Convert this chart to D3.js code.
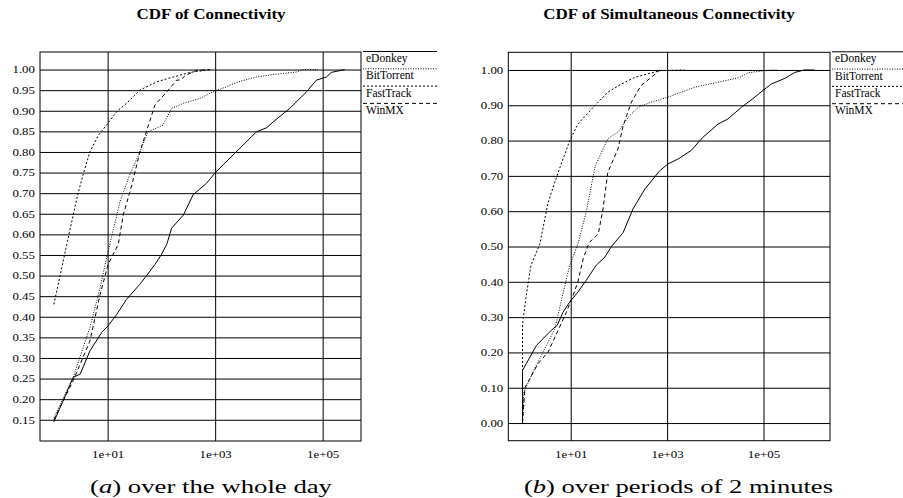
<!DOCTYPE html>
<html>
<head>
<meta charset="utf-8">
<script src="https://cdn.jsdelivr.net/npm/d3@7"></script>
<style>
  body { margin: 0; background: #fff; }
  text { font-family: "Liberation Serif", "Times New Roman", serif; fill: #000; }
</style>
</head>
<body>
<svg id="chart" width="903" height="498"></svg>
<script>
var seriesNames = ["eDonkey", "BitTorrent", "FastTrack", "WinMX"];

var xTickValues = [10, 1000, 100000];
var xTickLabels = ["1e+01", "1e+03", "1e+05"];
var dayYTicks = [0.15, 0.20, 0.25, 0.30, 0.35, 0.40, 0.45, 0.50, 0.55, 0.60,
                 0.65, 0.70, 0.75, 0.80, 0.85, 0.90, 0.95, 1.00];
var minYTicks = [0.00, 0.10, 0.20, 0.30, 0.40, 0.50, 0.60, 0.70, 0.80, 0.90, 1.00];

// (a) whole day
var dayEdonkeyX = [1, 2.29, 3.09, 4.68, 7.76, 10.2, 14.8, 22.4, 39.8, 52.5, 75.9, 100, 126, 155,
                   257, 389, 692, 977, 1413, 2884, 5888, 9120, 12023, 24547, 50119, 75858,
                   117490, 144544, 257040];
var dayEdonkeyY = [0.145, 0.253, 0.261, 0.317, 0.362, 0.378, 0.406, 0.442, 0.479, 0.499, 0.527,
                   0.551, 0.576, 0.615, 0.647, 0.696, 0.724, 0.748, 0.769, 0.809, 0.849, 0.859,
                   0.873, 0.906, 0.946, 0.974, 0.982, 0.993, 1.0];
var dayBitX = [1, 2.29, 4.68, 7.24, 9.55, 11.7, 17, 25.7, 39.8, 56.2, 107, 155, 257, 525, 977,
               1622, 2512, 5888, 12023, 32359, 43652, 81283];
var dayBitY = [0.155, 0.253, 0.374, 0.47, 0.543, 0.591, 0.68, 0.744, 0.80, 0.849, 0.865, 0.906,
               0.918, 0.930, 0.948, 0.958, 0.969, 0.982, 0.988, 0.994, 1.0, 1.0];
var dayFastX = [1, 1.74, 2.29, 2.82, 3.55, 4.68, 6.76, 9.55, 14.8, 22.4, 39.8, 81, 166, 339, 832];
var dayFastY = [0.43, 0.576, 0.647, 0.70, 0.748, 0.80, 0.841, 0.865, 0.898, 0.918, 0.95, 0.970,
                0.982, 0.993, 1.0];
var dayWinX = [1, 2.29, 4.68, 7.24, 10.2, 15.8, 19.5, 28.2, 39.8, 52.5, 75.9, 126, 191, 229, 275,
               447, 794];
var dayWinY = [0.15, 0.245, 0.341, 0.454, 0.527, 0.576, 0.647, 0.72, 0.80, 0.849, 0.914, 0.946,
               0.974, 0.975, 0.985, 0.998, 1.0];

// (b) periods of 2 minutes
var minEdonkeyX = [1, 1, 1.95, 3.98, 5.25, 6.92, 9.55, 14.1, 20.9, 33.9, 51.3, 69.2, 123, 195, 347,
                   708, 1047, 1698, 3162, 5495, 11482, 18197, 34674, 66069, 97724, 144544, 275423,
                   446684, 707946, 1148154];
var minEdonkeyY = [0, 0.149, 0.22, 0.263, 0.277, 0.314, 0.343, 0.371, 0.404, 0.447, 0.47, 0.499,
                   0.54, 0.606, 0.663, 0.715, 0.734, 0.748, 0.772, 0.809, 0.847, 0.861, 0.894,
                   0.923, 0.942, 0.96, 0.976, 0.993, 1.0, 1.0];
var minBitX = [1, 1.07, 1.78, 2.88, 4.68, 7.59, 9.55, 14.1, 20.9, 32.4, 58.9, 95.5, 155, 251, 468,
               1047, 3715, 13183, 32359, 47863, 104713, 186209];
var minBitY = [0, 0.088, 0.154, 0.21, 0.267, 0.39, 0.447, 0.507, 0.597, 0.729, 0.805, 0.824, 0.866,
               0.894, 0.909, 0.923, 0.951, 0.967, 0.979, 0.992, 0.998, 1.0];
var minFastX = [1, 1, 1.2, 1.5, 2.29, 3.39, 5.5, 9.55, 14.1, 31.6, 58.9, 112, 214, 398, 708, 2344];
var minFastY = [0, 0.28, 0.362, 0.447, 0.507, 0.625, 0.71, 0.80, 0.847, 0.899, 0.937, 0.96, 0.979,
                0.989, 0.998, 1.0];
var minWinX = [1, 1.12, 2.09, 3.39, 5.5, 8.13, 11.2, 14.1, 18.2, 22.9, 24.5, 37.2, 46.8, 58.9, 95.5,
               123, 182, 288, 468, 646, 708];
var minWinY = [0, 0.10, 0.168, 0.201, 0.263, 0.314, 0.362, 0.40, 0.466, 0.503, 0.512, 0.535, 0.606,
               0.71, 0.776, 0.843, 0.909, 0.956, 0.979, 0.995, 1.0];

var dashes = [null, "1,1.5", "2,2", "4,3"];
var stretch = 1.25;
var titleStretch = 1.13;

var svg = d3.select("#chart");

// the original picture is a bit wider than tall, so text gets pulled sideways
function widen(sel, k) {
  sel.each(function () {
    var w = this.getComputedTextLength();
    d3.select(this).attr("textLength", w * k).attr("lengthAdjust", "spacingAndGlyphs");
  });
}

function drawPanel(p) {
  var x = d3.scaleLog().domain(p.xDomain).range([p.left, p.right]);
  var y = d3.scaleLinear().domain(p.yDomain).range([p.bottom, p.top]);
  var g = svg.append("g");

  var yAxis = g.append("g")
    .attr("transform", "translate(" + p.left + ",0)")
    .call(d3.axisLeft(y).tickValues(p.yTicks).tickFormat(d3.format(".2f"))
      .tickSize(-(p.right - p.left)).tickPadding(5));
  var xAxis = g.append("g")
    .attr("transform", "translate(0," + p.bottom + ")")
    .call(d3.axisBottom(x).tickValues(xTickValues)
      .tickFormat(function (d, i) { return xTickLabels[i]; })
      .tickSize(-(p.bottom - p.top)).tickPadding(10));

  [yAxis, xAxis].forEach(function (a) {
    a.select(".domain").remove();
    a.selectAll(".tick line").attr("stroke", "#000");
    a.selectAll(".tick text").attr("font-family", "Liberation Serif").attr("font-size", 10.3);
    widen(a.selectAll(".tick text"), stretch);
  });

  g.append("rect")
    .attr("x", p.left).attr("y", p.top)
    .attr("width", p.right - p.left).attr("height", p.bottom - p.top)
    .attr("fill", "none").attr("stroke", "#000");

  var line = d3.line()
    .x(function (d) { return x(d[0]); })
    .y(function (d) { return y(d[1]); });

  p.series.forEach(function (s, i) {
    g.append("path")
      .datum(d3.zip(s[0], s[1]))
      .attr("d", line)
      .attr("fill", "none")
      .attr("stroke", "#000")
      .attr("stroke-width", 1)
      .attr("stroke-dasharray", dashes[i]);
  });

  // legend
  var lg = g.append("g").selectAll("g").data(seriesNames).join("g")
    .attr("transform", function (d, i) {
      return "translate(" + (p.right + 2) + "," + (p.top - 0.5 + i * 17.3) + ")";
    });
  lg.append("line")
    .attr("x1", 0).attr("x2", 74).attr("y1", 0).attr("y2", 0)
    .attr("stroke", "#000")
    .attr("stroke-dasharray", function (d, i) { return dashes[i]; });
  lg.append("text")
    .attr("x", 3).attr("y", 10.5)
    .attr("font-size", 11.5)
    .text(function (d) { return d; });

  var title = g.append("text")
    .attr("x", p.titleX).attr("y", 19)
    .attr("text-anchor", "middle")
    .attr("font-weight", "bold")
    .attr("font-size", 15)
    .text(p.title);
  widen(title, titleStretch);

  var cap = g.append("text")
    .attr("x", p.captionX).attr("y", 493)
    .attr("text-anchor", "middle")
    .attr("font-size", 18.5)
    .attr("textLength", p.captionWidth)
    .attr("lengthAdjust", "spacingAndGlyphs");
  cap.append("tspan").text("(");
  cap.append("tspan").attr("font-style", "italic").text(p.captionLetter);
  cap.append("tspan").text(") " + p.caption);
}

drawPanel({
  left: 40, right: 361, top: 52, bottom: 441,
  xDomain: [Math.pow(10, -0.258), Math.pow(10, 5.713)],
  yDomain: [0.0985, 1.0426],
  yTicks: dayYTicks,
  series: [[dayEdonkeyX, dayEdonkeyY], [dayBitX, dayBitY], [dayFastX, dayFastY], [dayWinX, dayWinY]],
  title: "CDF of Connectivity",
  titleX: 211,
  captionX: 211,
  captionLetter: "a",
  caption: "over the whole day",
  captionWidth: 242
});

drawPanel({
  left: 508.3, right: 830, top: 52.3, bottom: 440.7,
  xDomain: [Math.pow(10, -0.295), Math.pow(10, 6.38)],
  yDomain: [-0.05, 1.05],
  yTicks: minYTicks,
  series: [[minEdonkeyX, minEdonkeyY], [minBitX, minBitY], [minFastX, minFastY], [minWinX, minWinY]],
  title: "CDF of Simultaneous Connectivity",
  titleX: 669,
  captionX: 678.5,
  captionLetter: "b",
  caption: "over periods of 2 minutes",
  captionWidth: 309
});
</script>
</body>
</html>
